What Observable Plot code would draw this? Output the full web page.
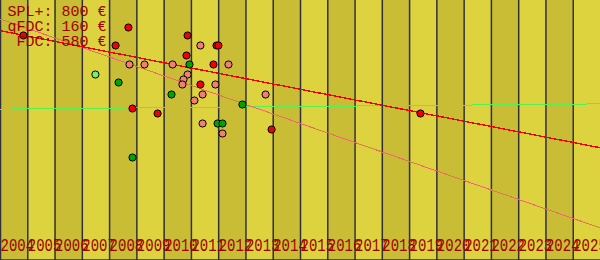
<!DOCTYPE html>
<html>
<head>
<meta charset="utf-8">
<script src="https://cdn.jsdelivr.net/npm/d3@7"></script>
<script src="https://cdn.jsdelivr.net/npm/@observablehq/plot@0.6"></script>
<style>
  html, body { margin: 0; padding: 0; background: #fff; }
  svg { display: block; }
</style>
</head>
<body>
<div id="chart"></div>
<script>
// ---- data ----
const years = d3.range(2004, 2026); // 2004 .. 2025, one column each

const legendNames = ["SPL+", "qFDC", "FDC"];
const legendPrices = [800, 160, 580];

// price points (year as decimal, value in €)
const redYears  = [2004.84, 2008.69, 2008.22, 2010.86, 2010.82, 2011.92, 2011.99, 2011.81, 2011.33, 2008.84, 2009.76, 2013.94, 2019.40];
const redValues = [1125, 1165, 1075, 1125, 1025, 1075, 1075, 980, 880, 760, 735, 655, 735];

const pinkYears  = [2008.73, 2009.28, 2010.31, 2012.36, 2011.33, 2010.86, 2010.71, 2010.67, 2011.88, 2011.41, 2011.11, 2013.72, 2011.41, 2012.14];
const pinkValues = [980, 980, 980, 980, 1075, 930, 905, 880, 880, 830, 800, 830, 685, 635];

const greenYears  = [2010.93, 2008.33, 2010.27, 2012.87, 2011.96, 2012.14, 2008.84];
const greenValues = [980, 890, 830, 780, 685, 685, 515];

const lightGreenYears  = [2007.48];
const lightGreenValues = [930];

// trend lines: start/end year and value
const trendStart = 2004, trendEnd = 2026;
const redTrend   = [1148.5, 563.5];
const pinkTrend  = [1207.5, 162.5];
const greenTrend = [757, 783];

// ---- build ----
const pts = (xs, ys) => xs.map((x, i) => ({x, y: ys[i]}));
const trend = (v) => [{x1: trendStart, y1: v[0], x2: trendEnd, y2: v[1]}];
const legendText = legendNames.map((n, i) => `${n}: ${legendPrices[i]} €`).join("\n");

const chart = Plot.plot({
  width: 600,
  height: 260,
  margin: 0,
  x: {domain: [2004, 2026], axis: null},
  y: {domain: [0, 1300], axis: null},
  style: {background: "#dcd33f", fontFamily: "'Liberation Mono', monospace"},
  marks: [
    Plot.rect(years, {x1: d => d, x2: d => d + 1, fill: d => (d - 2004) % 2 === 0 ? "#c9bd36" : "#dcd33f"}),
    Plot.ruleX(years, {stroke: "#30303c", strokeWidth: 1.5}),
    Plot.ruleY([0], {stroke: "#30303c", strokeWidth: 1.5, dy: -0.5}),
    Plot.link(trend(greenTrend), {x1: "x1", y1: "y1", x2: "x2", y2: "y2", stroke: "#55f055", strokeWidth: 1, shapeRendering: "crispEdges"}),
    Plot.link(trend(pinkTrend), {x1: "x1", y1: "y1", x2: "x2", y2: "y2", stroke: "#f06868", strokeWidth: 1, shapeRendering: "crispEdges"}),
    Plot.link(trend(redTrend), {x1: "x1", y1: "y1", x2: "x2", y2: "y2", stroke: "#f00000", strokeWidth: 1.4, shapeRendering: "crispEdges"}),
    Plot.dot(pts(greenYears, greenValues), {x: "x", y: "y", r: 3.6, fill: "#00a400", stroke: "#000", strokeWidth: 1}),
    Plot.dot(pts(lightGreenYears, lightGreenValues), {x: "x", y: "y", r: 3.6, fill: "#77ee66", stroke: "#000", strokeWidth: 1}),
    Plot.dot(pts(pinkYears, pinkValues), {x: "x", y: "y", r: 3.6, fill: "#f08070", stroke: "#000", strokeWidth: 1}),
    Plot.dot(pts(redYears, redValues), {x: "x", y: "y", r: 3.6, fill: "#f00000", stroke: "#000", strokeWidth: 1}),
    Plot.text(years, {x: d => d, text: d => String(d), frameAnchor: "bottom", dy: -15.4, textAnchor: "start", fill: "#a00000", fontSize: 14, lineAnchor: "middle", className: "yearlabels"}),
    Plot.text([legendText], {frameAnchor: "top-left", dx: 106, dy: 4.5, textAnchor: "end", lineAnchor: "top", lineHeight: 1, fontSize: 15, fill: "#a00000", className: "legendlabels"})
  ]
});
// the original typeface is drawn taller and narrower: stretch the year glyphs vertically
d3.select(chart).selectAll(".yearlabels text")
  .attr("transform", function() { return (this.getAttribute("transform") || "") + " scale(1,1.36)"; });
document.getElementById("chart").appendChild(chart);
</script>
</body>
</html>
